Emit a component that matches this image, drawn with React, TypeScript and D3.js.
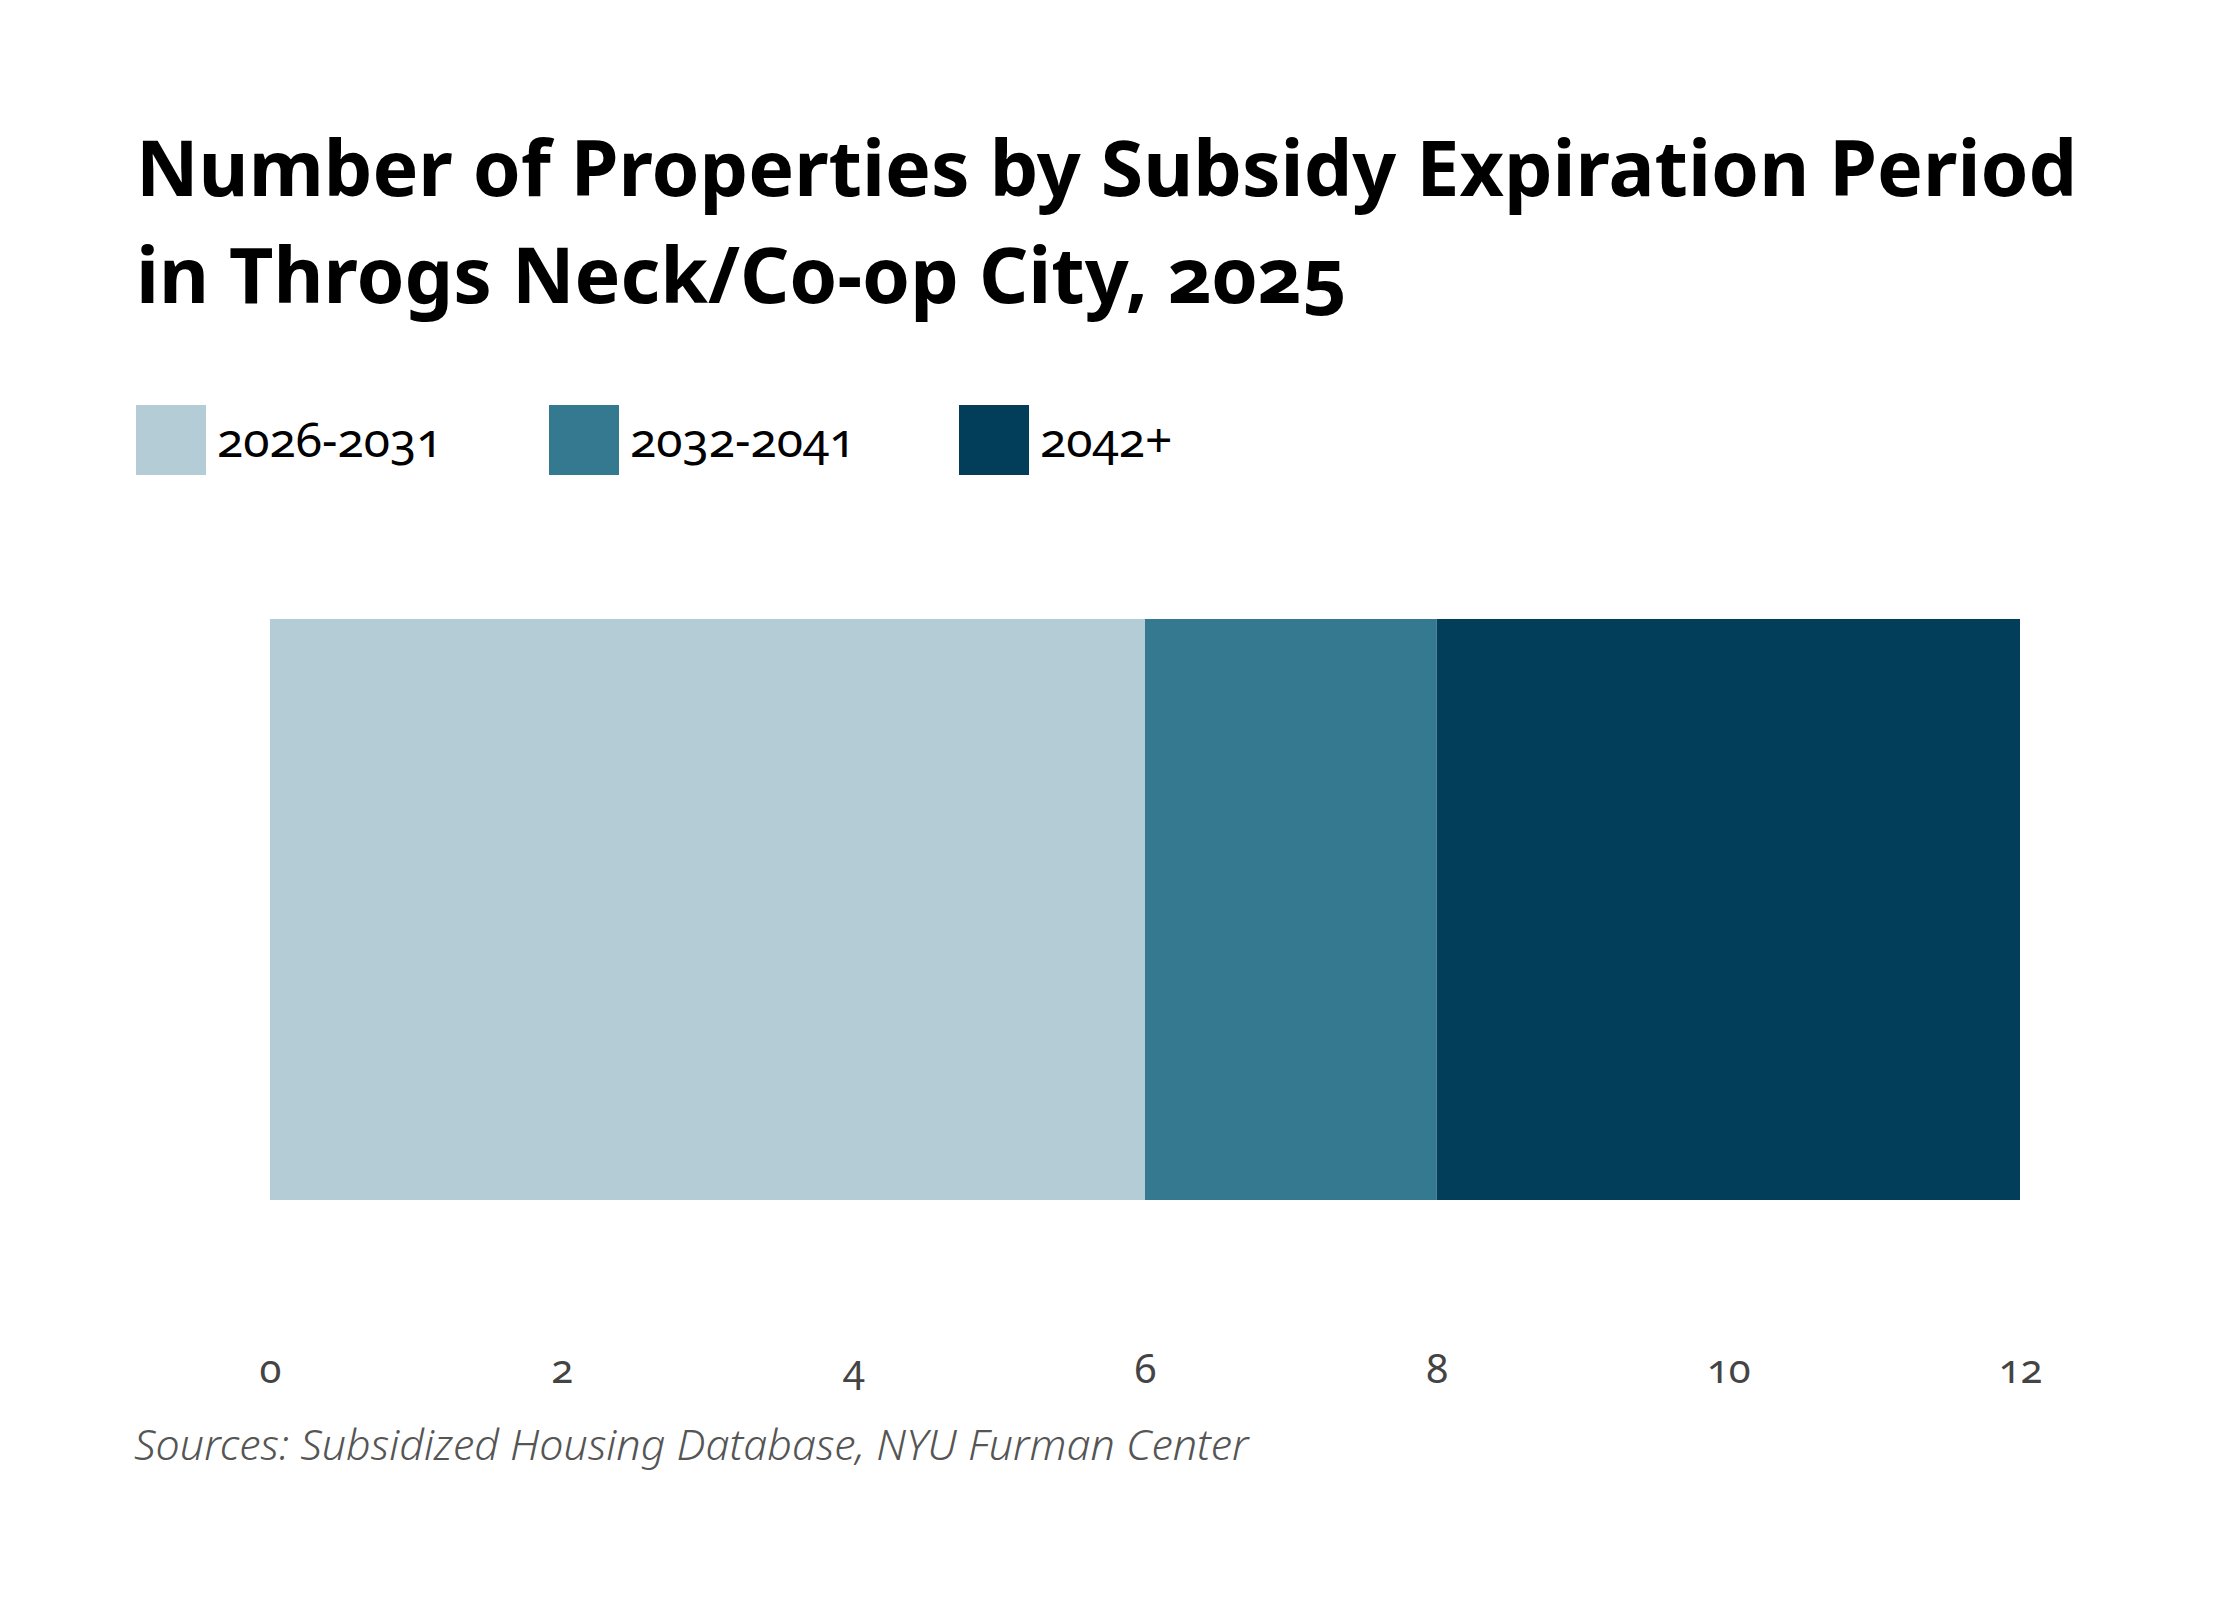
import { useEffect, useRef } from 'react';
import * as d3 from 'd3';

const categories = ['2026-2031', '2032-2041', '2042+'];
const counts = [6, 2, 4];
const colors = ['#b3ccd6', '#34798f', '#023e59'];
const xTicks = [0, 2, 4, 6, 8, 10, 12];

const titleLines = [
  'Number of Properties by Subsidy Expiration Period',
  'in Throgs Neck/Co-op City, 2025',
];
const sourceText = 'Sources: Subsidized Housing Database, NYU Furman Center';

const WIDTH = 2240;
const HEIGHT = 1600;

export default function App() {
  const svgRef = useRef<SVGSVGElement>(null);

  useEffect(() => {
    if (!svgRef.current) return;
    d3.select(svgRef.current).selectAll('*').remove();

    const svg = d3.select(svgRef.current)
      .attr('width', WIDTH)
      .attr('height', HEIGHT)
      .style('font-family', '"Noto Sans", "Open Sans", sans-serif')
      .style('font-variant-numeric', 'oldstyle-nums');

    svg.append('rect')
      .attr('width', WIDTH)
      .attr('height', HEIGHT)
      .attr('fill', '#fff');

    // Title
    const title = svg.append('text')
      .attr('x', 136)
      .attr('y', 196)
      .attr('font-size', 77)
      .attr('font-weight', 700)
      .attr('fill', '#000');
    titleLines.forEach((line, i) => {
      title.append('tspan')
        .attr('x', 136)
        .attr('dy', i === 0 ? 0 : 107)
        .text(line);
    });

    // Legend
    const legendX = [136, 549, 959];
    const legend = svg.append('g')
      .selectAll('g')
      .data(categories)
      .enter()
      .append('g')
      .attr('transform', (_, i) => `translate(${legendX[i]},405)`);

    legend.append('rect')
      .attr('width', 70)
      .attr('height', 70)
      .attr('fill', (_, i) => colors[i]);

    legend.append('text')
      .attr('x', 81)
      .attr('y', 52)
      .attr('font-size', 48)
      .attr('fill', '#000')
      .text(d => d);

    // Stacked bar
    const total = d3.sum(counts);
    const xScale = d3.scaleLinear()
      .domain([0, 12])
      .range([270, 2020]);

    const yScale = d3.scaleBand()
      .domain(['Throgs Neck/Co-op City'])
      .range([619, 1200])
      .padding(0);

    let cum = 0;
    const stacked = counts.map((v, i) => {
      const s = { key: categories[i], x0: cum, x1: cum + v, color: colors[i] };
      cum += v;
      return s;
    });

    svg.append('g')
      .selectAll('rect')
      .data(stacked)
      .enter()
      .append('rect')
      .attr('x', d => xScale(d.x0))
      .attr('y', yScale('Throgs Neck/Co-op City') as number)
      .attr('width', d => xScale(d.x1) - xScale(d.x0))
      .attr('height', yScale.bandwidth())
      .attr('fill', d => d.color)
      .append('title')
      .text(d => `${d.key}: ${d.x1 - d.x0} of ${total}`);

    // X axis (labels only)
    const axis = svg.append('g')
      .attr('transform', 'translate(0,1355)')
      .call(d3.axisBottom(xScale).tickValues(xTicks).tickSize(0).tickPadding(0));
    axis.select('.domain').remove();
    axis.selectAll('text')
      .attr('dy', '0.71em')
      .attr('font-size', 40)
      .attr('font-family', '"Noto Sans", "Open Sans", sans-serif')
      .attr('fill', '#444');

    // Source
    svg.append('text')
      .attr('x', 134)
      .attr('y', 1460)
      .attr('font-size', 43)
      .attr('font-style', 'italic')
      .attr('font-weight', 300)
      .attr('fill', '#555')
      .text(sourceText);
  }, []);

  return (
    <div style={{ position: 'absolute', left: 0, top: 0 }}>
      <svg ref={svgRef} />
    </div>
  );
}
